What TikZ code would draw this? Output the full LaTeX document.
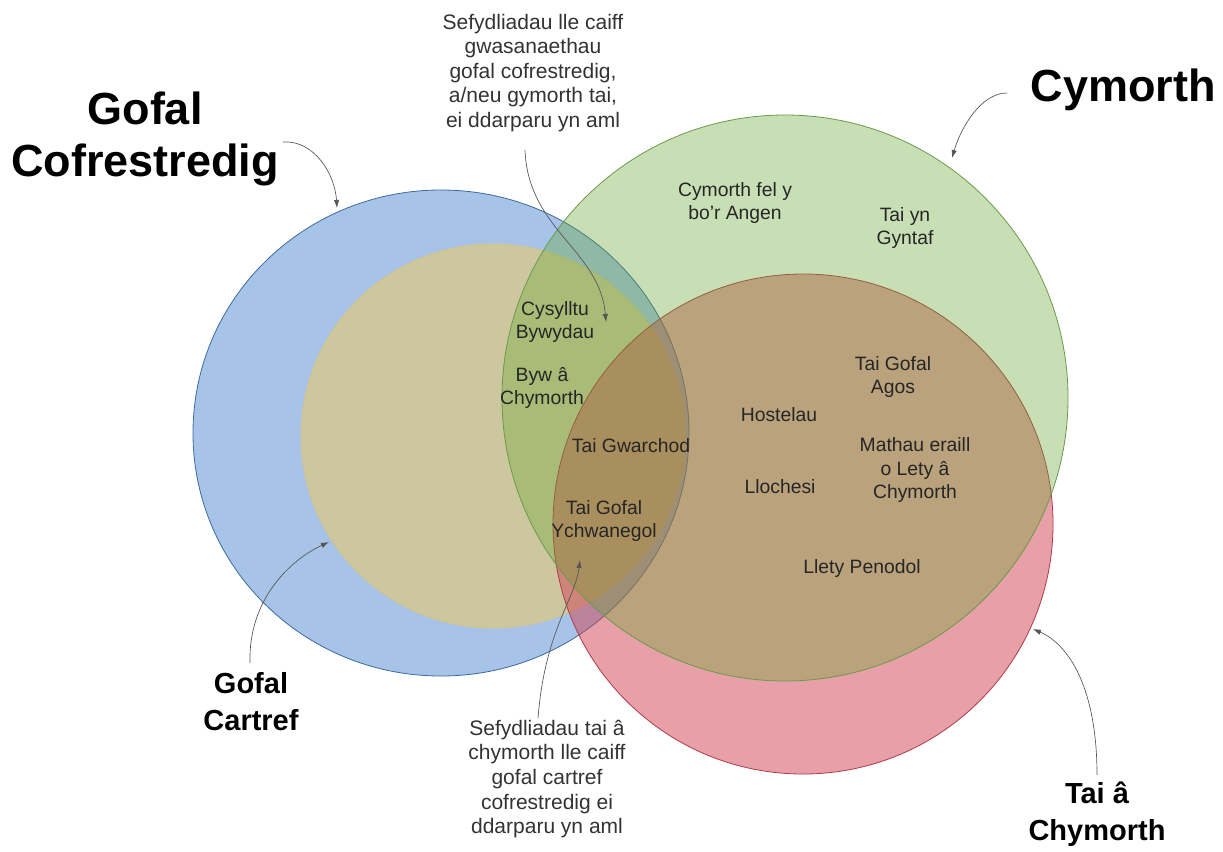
\documentclass[tikz,border=0pt]{standalone}
\usepackage{fontspec}
\setmainfont{Liberation Sans}
\usetikzlibrary{arrows.meta}
\definecolor{bluefill}{HTML}{A7C4E8}
\definecolor{bluedraw}{HTML}{3B6AA0}
\definecolor{tanfill}{HTML}{CDC7A0}
\definecolor{tandraw}{HTML}{DCC27A}
\definecolor{redfill}{HTML}{D14353}
\definecolor{reddraw}{HTML}{B03A48}
\definecolor{greenfill}{HTML}{64A62C}
\definecolor{greendraw}{HTML}{6A9A4A}
\definecolor{pointergray}{HTML}{555555}
\begin{document}
\begin{tikzpicture}[x=0.75pt,y=-0.75pt,
  inner/.style={align=center,font=\fontsize{14.5}{17.6}\selectfont,text=black!85,inner sep=0pt},
  note/.style={align=center,font=\fontsize{15.75}{18.4}\selectfont,text=black!80,inner sep=0pt},
  big/.style={align=center,font=\fontsize{33.75}{39}\selectfont\bfseries,inner sep=0pt},
  mid/.style={align=center,font=\fontsize{21.75}{27.75}\selectfont\bfseries,inner sep=0pt},
  pointer/.style={draw=pointergray,line width=0.5pt,-{Latex[length=6pt,width=4pt]}}]
\useasboundingbox (0,0) rectangle (1223,851);
\fill[white] (0,0) rectangle (1223,851);
% circles
\draw[fill=bluefill,draw=bluedraw,line width=0.6pt] (441,433) circle[x radius=248,y radius=243];
\draw[fill=tanfill,draw=tandraw,line width=0.5pt] (493,436) circle[x radius=192,y radius=192];
\draw[fill=redfill,fill opacity=0.5,draw=reddraw,line width=0.6pt] (803,524) circle[x radius=250,y radius=250];
\draw[fill=greenfill,fill opacity=0.35,draw=greendraw,line width=0.6pt] (785,398) circle[x radius=283,y radius=283];
% outer labels
\node[big] (GC) at (145,139) {Gofal\\Cofrestredig};
\node[big] (CY) at (1123,90) {Cymorth};
\node[mid] (GCa) at (251,702) {Gofal\\Cartref};
\node[mid] (TC) at (1097,814) {Tai â\\Chymorth};
\node[note] (TN) at (533,73) {Sefydliadau lle caiff\\gwasanaethau\\gofal cofrestredig,\\a/neu gymorth tai,\\ei ddarparu yn aml};
\node[note] (BN) at (547,779) {Sefydliadau tai â\\chymorth lle caiff\\gofal cartref\\cofrestredig ei\\ddarparu yn aml};
% inner labels
\node[inner] (CFA) at (735,203) {Cymorth fel y\\bo’r Angen};
\node[inner] (TYG) at (905,228) {Tai yn\\Gyntaf};
\node[inner] (CB) at (555,322) {Cysylltu\\Bywydau};
\node[inner] (BAC) at (542,388) {Byw â\\Chymorth};
\node[inner] (TG) at (631,446) {Tai Gwarchod};
\node[inner] (TGY) at (604,521) {Tai Gofal\\Ychwanegol};
\node[inner] (HO) at (779,415) {Hostelau};
\node[inner] (LL) at (780,487) {Llochesi};
\node[inner] (TGA) at (893,377) {Tai Gofal\\Agos};
\node[inner] (MEL) at (915,470) {Mathau eraill\\o Lety â\\Chymorth};
\node[inner] (LP) at (862,568) {Llety Penodol};
% pointer ends
\coordinate (p1s) at (283,142);
\coordinate (p1e) at (337,208);
\coordinate (p2s) at (525,150);
\coordinate (p2e) at (606,322);
\coordinate (p3s) at (1007,93);
\coordinate (p3e) at (952,158);
\coordinate (p4s) at (250,663);
\coordinate (p4e) at (329,542);
\coordinate (p5s) at (1097,775);
\coordinate (p5e) at (1033,629);
\coordinate (p6s) at (538,718);
\coordinate (p6e) at (580,560);
% pointers
\draw[pointer] (p1s) .. controls (315,140) and (335,175) .. (p1e);
\draw[pointer] (p2s) .. controls (528,230) and (600,250) .. (p2e);
\draw[pointer] (p3s) .. controls (980,93) and (960,130) .. (p3e);
\draw[pointer] (p4s) .. controls (248,600) and (290,560) .. (p4e);
\draw[pointer] (p5s) .. controls (1097,690) and (1070,645) .. (p5e);
\draw[pointer] (p6s) .. controls (545,630) and (575,600) .. (p6e);
\end{tikzpicture}
\end{document}
